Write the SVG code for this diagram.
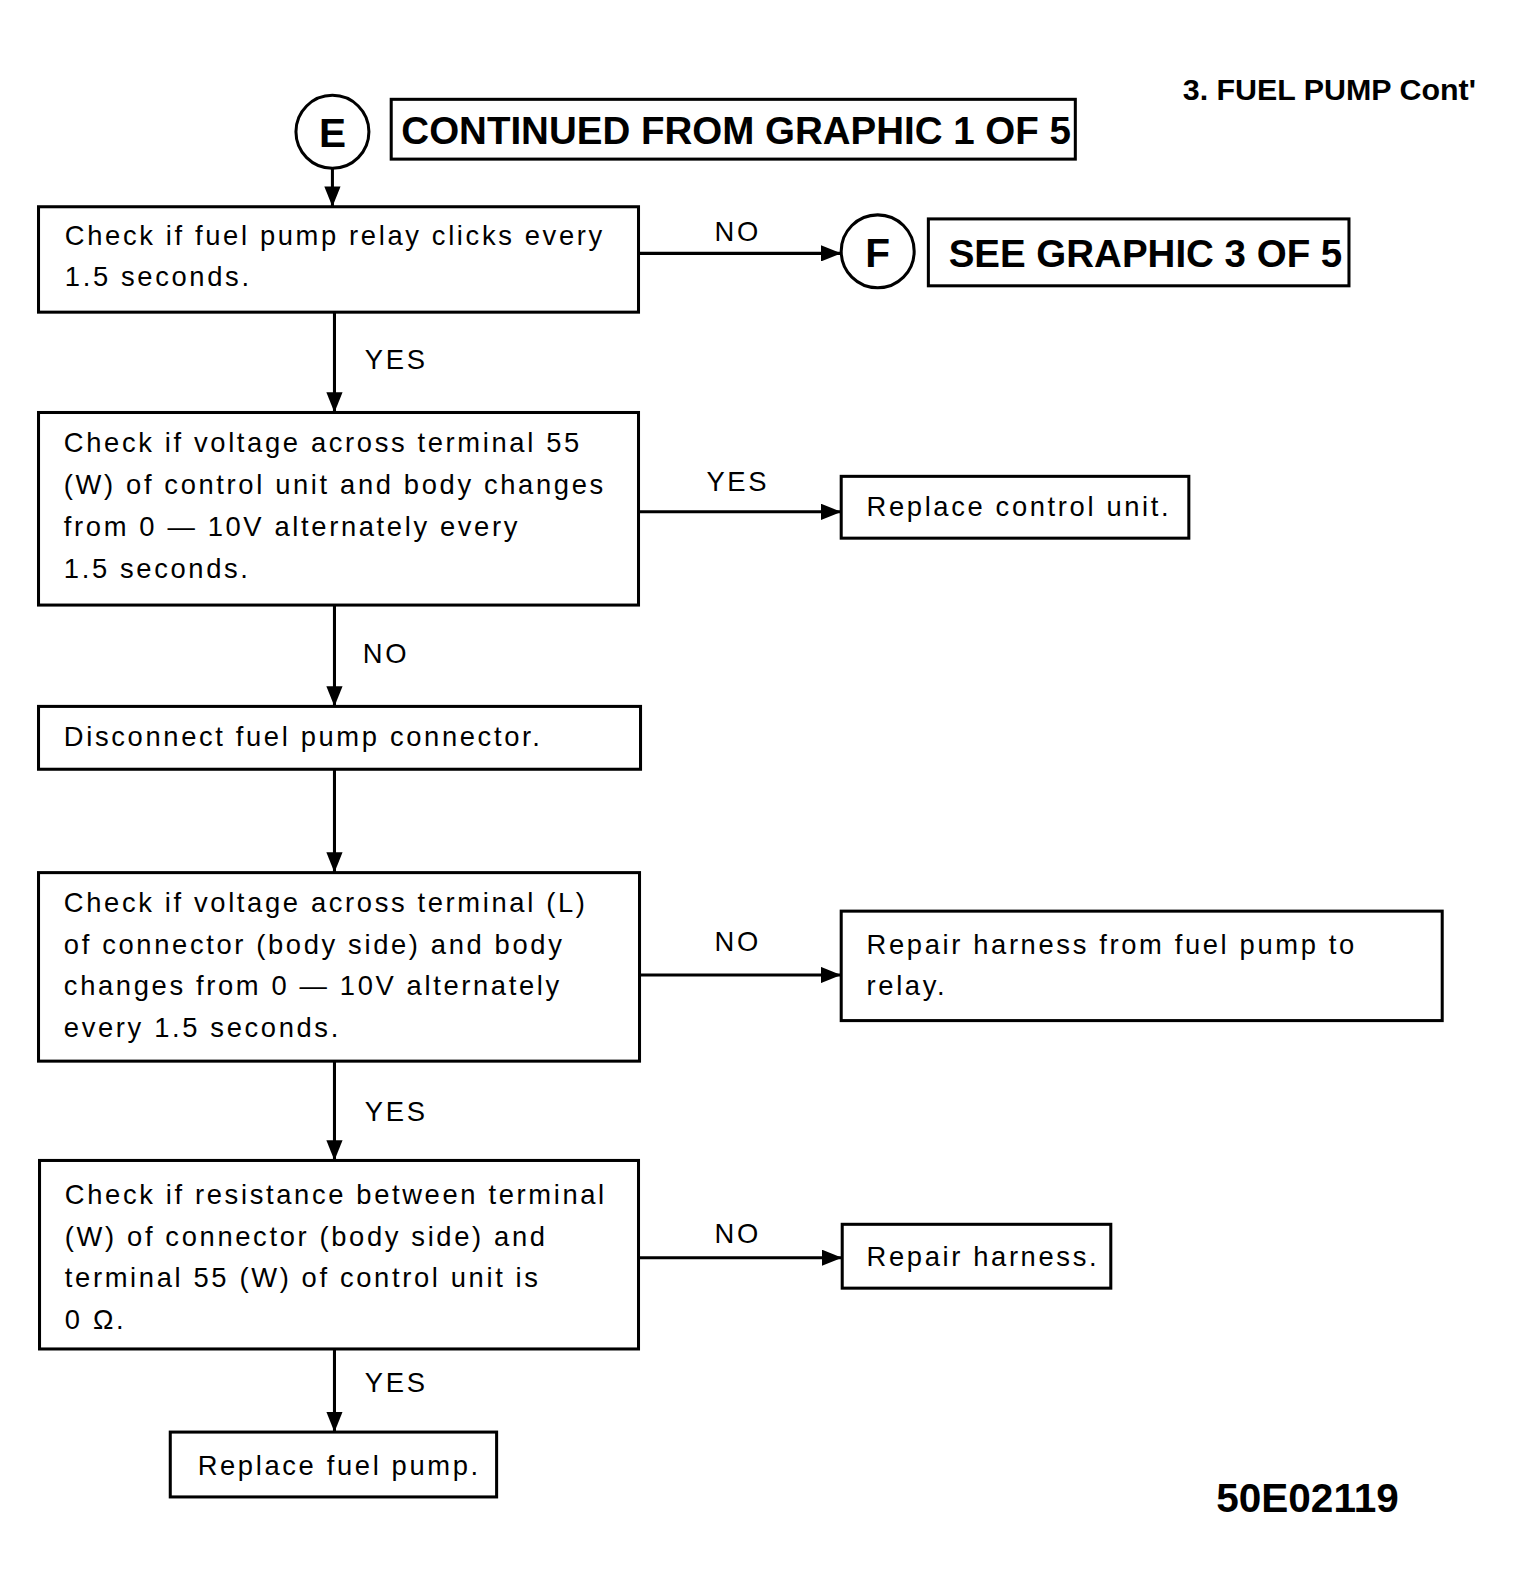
<svg xmlns="http://www.w3.org/2000/svg" width="1523" height="1587" viewBox="0 0 1523 1587">
<defs>
<style>
.b{fill:#fff;stroke:#000;stroke-width:3}
.t{font-family:"Liberation Sans",Arial,sans-serif;font-size:27px;letter-spacing:2.6px;fill:#000}
.h{font-family:"Liberation Sans",Arial,sans-serif;font-weight:bold;fill:#000}
.c{stroke:#000;stroke-width:3;fill:none}
</style>
<marker id="ah" viewBox="0 0 20 16" refX="20" refY="8" markerWidth="20" markerHeight="16" orient="auto" markerUnits="userSpaceOnUse"><path d="M0,0L20,8L0,16z" fill="#000"/></marker>
</defs>
<rect width="1523" height="1587" fill="#fff"/>
<g transform="scale(1.0135)">
<text class="h" x="1167" y="99" font-size="30">3. FUEL PUMP Cont'</text>
<text class="h" x="1200" y="1492" font-size="40">50E02119</text>
<g id="connectors">
<path class="c" d="M328,166V204" marker-end="url(#ah)"/>
<path class="c" d="M630,250H830" marker-end="url(#ah)"/>
<path class="c" d="M330,308V407" marker-end="url(#ah)"/>
<path class="c" d="M630,505H830" marker-end="url(#ah)"/>
<path class="c" d="M330,597V697" marker-end="url(#ah)"/>
<path class="c" d="M330,759V861" marker-end="url(#ah)"/>
<path class="c" d="M631,962H830" marker-end="url(#ah)"/>
<path class="c" d="M330,1047V1145" marker-end="url(#ah)"/>
<path class="c" d="M630,1241H831" marker-end="url(#ah)"/>
<path class="c" d="M330,1331V1413" marker-end="url(#ah)"/>
<text class="t" x="705" y="238">NO</text>
<text class="t" x="360" y="364">YES</text>
<text class="t" x="697" y="484">YES</text>
<text class="t" x="358" y="654">NO</text>
<text class="t" x="705" y="938">NO</text>
<text class="t" x="360" y="1106">YES</text>
<text class="t" x="705" y="1226">NO</text>
<text class="t" x="360" y="1373">YES</text>
</g>
<g id="E"><circle class="b" cx="328" cy="130" r="36"/><text class="h" x="328" y="145" font-size="40" text-anchor="middle">E</text></g>
<g id="cont"><rect class="b" x="386" y="98" width="675" height="59"/><text class="h" x="396" y="142" font-size="38">CONTINUED FROM GRAPHIC 1 OF 5</text></g>
<g id="F"><circle class="b" cx="866" cy="248" r="36"/><text class="h" x="866" y="263" font-size="40" text-anchor="middle">F</text></g>
<g id="see"><rect class="b" x="916" y="216" width="415" height="66"/><text class="h" x="936" y="263" font-size="38">SEE GRAPHIC 3 OF 5</text></g>
<g id="n1"><rect class="b" x="38" y="204" width="592" height="104"/><text class="t" x="64" y="242">Check if fuel pump relay clicks every</text><text class="t" x="64" y="282">1.5 seconds.</text></g>
<g id="n2"><rect class="b" x="38" y="407" width="592" height="190"/><text class="t" x="63" y="446">Check if voltage across terminal 55</text><text class="t" x="63" y="487">(W) of control unit and body changes</text><text class="t" x="63" y="529">from 0 — 10V alternately every</text><text class="t" x="63" y="570">1.5 seconds.</text></g>
<g id="n3"><rect class="b" x="38" y="697" width="594" height="62"/><text class="t" x="63" y="736">Disconnect fuel pump connector.</text></g>
<g id="n4"><rect class="b" x="38" y="861" width="593" height="186"/><text class="t" x="63" y="900">Check if voltage across terminal (L)</text><text class="t" x="63" y="941">of connector (body side) and body</text><text class="t" x="63" y="982">changes from 0 — 10V alternately</text><text class="t" x="63" y="1023">every 1.5 seconds.</text></g>
<g id="n5"><rect class="b" x="39" y="1145" width="591" height="186"/><text class="t" x="64" y="1188">Check if resistance between terminal</text><text class="t" x="64" y="1229">(W) of connector (body side) and</text><text class="t" x="64" y="1270">terminal 55 (W) of control unit is</text><text class="t" x="64" y="1311">0 Ω.</text></g>
<g id="n6"><rect class="b" x="168" y="1413" width="322" height="64"/><text class="t" x="195" y="1455">Replace fuel pump.</text></g>
<g id="r1"><rect class="b" x="830" y="470" width="343" height="61"/><text class="t" x="855" y="509">Replace control unit.</text></g>
<g id="r2"><rect class="b" x="830" y="899" width="593" height="108"/><text class="t" x="855" y="941">Repair harness from fuel pump to</text><text class="t" x="855" y="982">relay.</text></g>
<g id="r3"><rect class="b" x="831" y="1208" width="265" height="63"/><text class="t" x="855" y="1249">Repair harness.</text></g>
</g>
</svg>
